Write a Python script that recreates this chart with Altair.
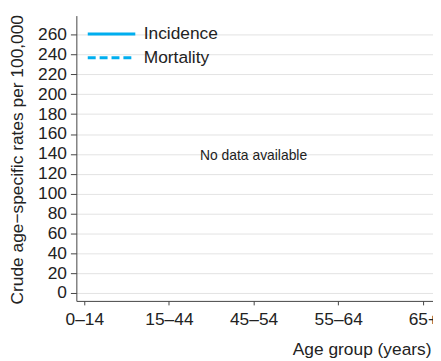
import json
import altair as alt
import pandas as pd

# ---- data ----
age_groups = ["0–14", "15–44", "45–54", "55–64", "65+"]
age_index = [0, 1, 2, 3, 4]
series = ["Incidence", "Mortality"]
incidence = [None, None, None, None, None]
mortality = [None, None, None, None, None]
y_ticks = [0, 20, 40, 60, 80, 100, 120, 140, 160, 180, 200, 220, 240, 260]
note_text = ["No data available"]
note_x = [2]
note_y = [138]

FONT = "Liberation Sans"
BLUE = "#00aeef"
TXT = "#222222"

rows = []
for s, vals in zip(series, [incidence, mortality]):
    for i, v in zip(age_index, vals):
        rows.append({"age": i, "series": s, "rate": v})
df = pd.DataFrame(rows)
note_df = pd.DataFrame({"x": note_x, "y": note_y, "text": note_text})

label_expr = json.dumps(age_groups) + "[datum.value]"

x_scale = alt.Scale(domain=[-0.094, 4.12], nice=False, zero=False)
y_scale = alt.Scale(domain=[-8, 279.2], nice=False, zero=False)

x_axis = alt.Axis(
    values=age_index, labelExpr=label_expr, title="Age group (years)",
    grid=False, tickSize=4, labelPadding=6, labelFontSize=17.5,
    labelColor=TXT, labelFont=FONT, titleFont=FONT, titleFontSize=17.5,
    titleFontWeight="normal", titleColor=TXT, titleAlign="right",
    titleBaseline="alphabetic", titleX=358, titleY=54, labelOverlap=False,
    labelBound=False, labelFlush=False,
    domainColor="#444444", tickColor="#444444",
)
y_axis = alt.Axis(
    values=y_ticks, title="Crude age\u2212specific rates per 100,000",
    grid=True, gridColor="#dcdcdc", gridOpacity=0.8, tickSize=6, labelPadding=4,
    labelFontSize=17.5, labelColor=TXT, labelFont=FONT, titleFont=FONT,
    titleFontSize=17.5, titleFontWeight="normal", titleColor=TXT,
    titleAlign="center", titleBaseline="alphabetic", titleX=-54, titleY=145,
    labelOverlap=False, labelBound=False, labelFlush=False,
    domainColor="#444444", tickColor="#444444",
)

lines = alt.Chart(df).mark_line(color=BLUE, strokeWidth=3).encode(
    x=alt.X("age:Q", scale=x_scale, axis=x_axis),
    y=alt.Y("rate:Q", scale=y_scale, axis=y_axis),
    strokeDash=alt.StrokeDash(
        "series:N",
        scale=alt.Scale(domain=series, range=[[1, 0], [8, 4]]),
        legend=alt.Legend(
            title=None, orient="none", legendX=26, legendY=9,
            symbolType="M-3,0H3", symbolSize=256, symbolStrokeWidth=3,
            symbolStrokeColor=BLUE, symbolFillColor="transparent",
            labelFontSize=17.5, labelFont=FONT,
            labelColor=TXT, labelOffset=23, rowPadding=6, padding=0,
        ),
    ),
    detail="series:N",
)

note = alt.Chart(note_df).mark_text(
    font=FONT, fontSize=14, color=TXT, align="center", baseline="middle"
).encode(
    x=alt.X("x:Q", scale=x_scale, axis=x_axis),
    y=alt.Y("y:Q", scale=y_scale, axis=y_axis),
    text="text:N",
)

chart = alt.layer(lines, note).properties(
    width=360, height=288,
    autosize=alt.AutoSizeParams(type="none"),
    padding={"left": 69, "top": 6, "right": 0, "bottom": 60},
).configure_view(stroke=None)

chart.save("out.html", embed_options={"renderer": "svg", "actions": False})
